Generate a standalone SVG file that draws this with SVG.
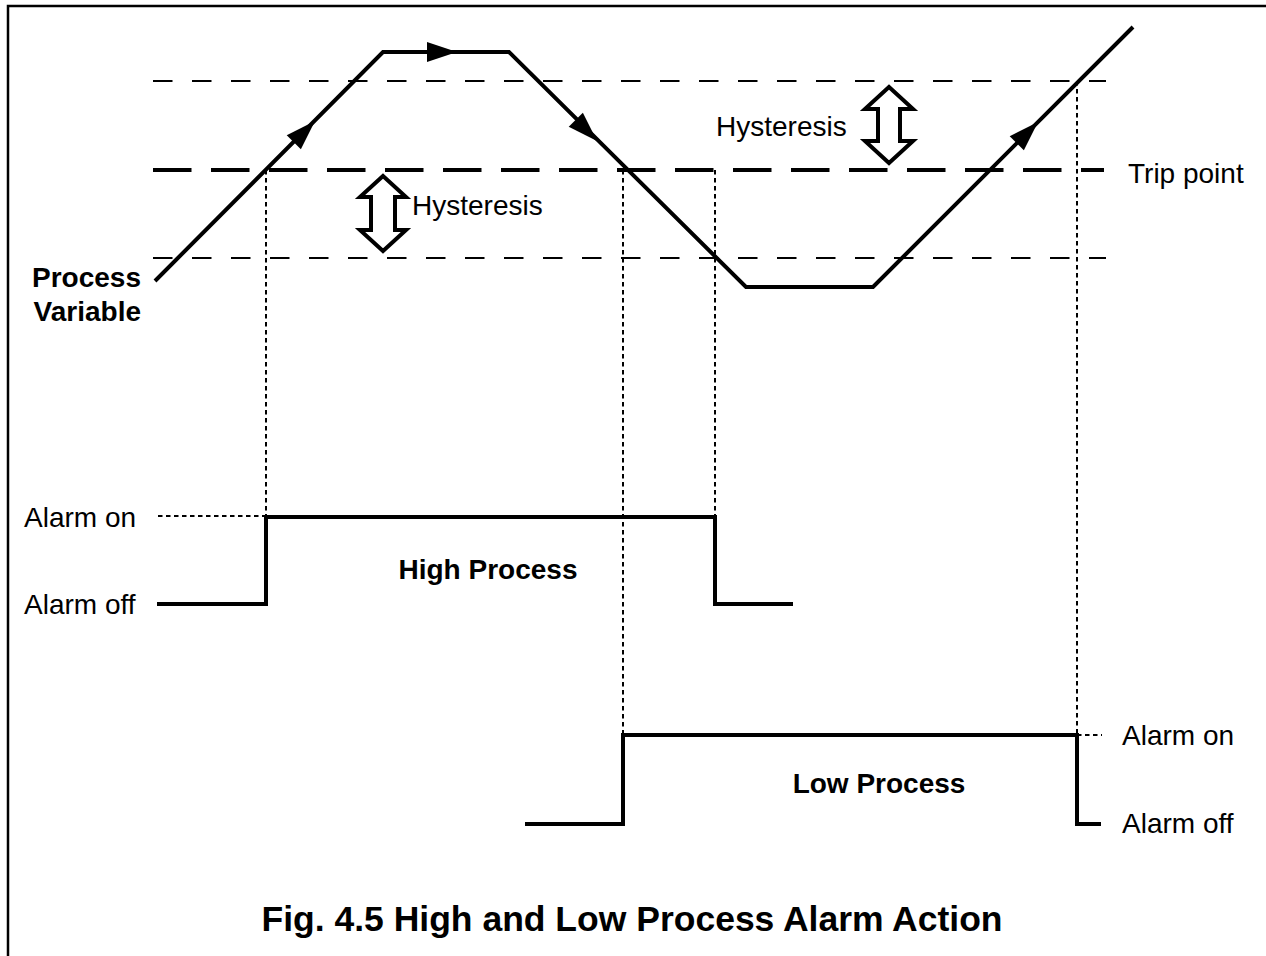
<svg xmlns="http://www.w3.org/2000/svg" width="1266" height="956" viewBox="0 0 1266 956">
<style>
  .lbl { font-family: "Liberation Sans", Arial, sans-serif; font-size: 28px; fill: #000; }
  .bold { font-weight: bold; }
  .thin-dash { stroke: #000; stroke-width: 2; stroke-dasharray: 19.5 19.5; fill: none; }
  .trip-dash { stroke: #000; stroke-width: 4; stroke-dasharray: 38.5 19.5; fill: none; }
  .dotted { stroke: #000; stroke-width: 2; stroke-dasharray: 4.5 3.5; fill: none; }
  .solid { stroke: #000; stroke-width: 4; fill: none; stroke-linejoin: miter; }
  .hyst { stroke: #000; stroke-width: 4; fill: #fff; stroke-linejoin: miter; }
</style>
<defs>
  <path id="ah" d="M0,0 L-30,-10 L-30,10 Z" fill="#000"/>
</defs>
<rect x="0" y="0" width="1266" height="956" fill="#fff"/>
<path d="M8,960 V6 H1270" fill="none" stroke="#000" stroke-width="2.5"/>

<g id="reference-lines">
  <line class="thin-dash" x1="153" y1="81" x2="1106" y2="81"/>
  <line class="trip-dash" x1="153" y1="170" x2="1104" y2="170"/>
  <line class="thin-dash" x1="153" y1="258" x2="1106" y2="258"/>
</g>

<g id="connectors">
  <line class="dotted" x1="266" y1="170" x2="266" y2="517"/>
  <line class="dotted" x1="623" y1="170" x2="623" y2="735"/>
  <line class="dotted" x1="715" y1="170" x2="715" y2="517"/>
  <line class="dotted" x1="1077" y1="81" x2="1077" y2="735"/>
  <line class="dotted" x1="158" y1="516" x2="266" y2="516"/>
  <line class="dotted" x1="1077" y1="735" x2="1102" y2="735"/>
</g>

<g id="process-variable">
  <polyline class="solid" points="155,281 383,52 509,52 746,287 873,287 1133,27"/>
  <use href="#ah" transform="translate(315,121) rotate(-45)"/>
  <use href="#ah" transform="translate(457,52)"/>
  <use href="#ah" transform="translate(597,141) rotate(45)"/>
  <use href="#ah" transform="translate(1038,122) rotate(-45)"/>
</g>

<g id="hysteresis-upper">
  <polygon class="hyst" points="889,87 913,109 900,109 900,141 913,141 889,163 865,141 878,141 878,109 865,109"/>
  <text class="lbl" x="716" y="136">Hysteresis</text>
</g>

<g id="hysteresis-lower">
  <polygon class="hyst" points="383,176 406,197 395,197 395,230 406,230 383,251 360,230 371,230 371,197 360,197"/>
  <text class="lbl" x="412" y="215">Hysteresis</text>
</g>

<g id="trip-point-label">
  <text class="lbl" x="1128" y="183">Trip point</text>
</g>

<g id="process-variable-label">
  <text class="lbl bold" x="141" y="287" text-anchor="end">Process</text>
  <text class="lbl bold" x="141" y="321" text-anchor="end">Variable</text>
</g>

<g id="high-process">
  <polyline class="solid" points="157,604 266,604 266,517 715,517 715,604 793,604"/>
  <text class="lbl" x="24" y="527">Alarm on</text>
  <text class="lbl" x="24" y="614">Alarm off</text>
  <text class="lbl bold" x="488" y="579" text-anchor="middle">High Process</text>
</g>

<g id="low-process">
  <polyline class="solid" points="525,824 623,824 623,735 1077,735 1077,824 1101,824"/>
  <text class="lbl" x="1122" y="745">Alarm on</text>
  <text class="lbl" x="1122" y="833">Alarm off</text>
  <text class="lbl bold" x="879" y="793" text-anchor="middle">Low Process</text>
</g>

<g id="title">
  <text class="lbl bold" x="632" y="931" text-anchor="middle" style="font-size:35.5px">Fig. 4.5 High and Low Process Alarm Action</text>
</g>
</svg>
